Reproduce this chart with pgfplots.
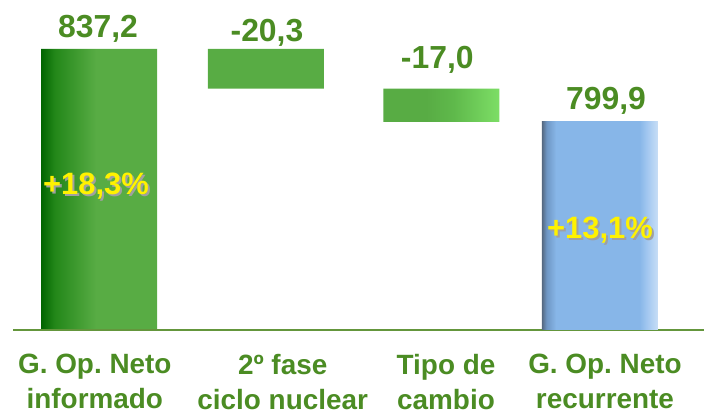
\documentclass[border=0pt]{standalone}
\usepackage{pgfplots}
\pgfplotsset{compat=1.18}
\usepackage{fontspec}
\setmainfont{Liberation Sans}
\frenchspacing
\definecolor{lab}{RGB}{75,140,35}
\definecolor{axl}{RGB}{100,150,60}
\definecolor{g1}{RGB}{0,100,0}
\definecolor{g2}{RGB}{35,135,25}
\definecolor{g3}{RGB}{88,172,68}
\definecolor{g4}{RGB}{95,185,75}
\definecolor{g5}{RGB}{125,222,102}
\definecolor{b1}{RGB}{85,105,130}
\definecolor{b2}{RGB}{110,150,195}
\definecolor{b3}{RGB}{135,182,232}
\definecolor{b4}{RGB}{160,198,240}
\definecolor{b5}{RGB}{200,222,246}
\definecolor{shad}{RGB}{160,160,160}
\pgfdeclarehorizontalshading{greenbar}{100bp}{color(0bp)=(g1); color(25bp)=(g1); color(26.5bp)=(g2); color(31bp)=(g3); color(67bp)=(g3); color(70bp)=(g4); color(75bp)=(g5); color(100bp)=(g5)}
\pgfdeclarehorizontalshading{bluebar}{100bp}{color(0bp)=(b1); color(25bp)=(b1); color(27bp)=(b2); color(31bp)=(b3); color(67bp)=(b3); color(70bp)=(b4); color(75bp)=(b5); color(100bp)=(b5)}
\pgfplotsset{
  common/.style={at={(13bp,82bp)}, anchor=south west, scale only axis,
    width=691bp, height=330bp, xmin=-0.515, xmax=3.623, ymin=693.6, ymax=862.2,
    bar width=116bp},
}
\tikzset{
  numlab/.style={font=\fontsize{32}{38}\selectfont\bfseries, text=lab, anchor=base, inner sep=0pt},
  pctlab/.style={font=\fontsize{31}{37}\selectfont\bfseries, anchor=base, inner sep=0pt},
}
\begin{document}
\begin{tikzpicture}
\begin{axis}[common, ybar stacked, hide axis]
\addplot[draw=none, fill=none] coordinates {(0,0) (1,816.9) (2.05,799.9)};
\addplot[draw=none, shading=greenbar] coordinates {(0,837.2) (1,20.3) (2.05,17.0)};
\end{axis}
\begin{axis}[common, ybar, bar shift=0pt,
  axis x line*=bottom, axis y line=none,
  axis line style={draw=axl, line width=2.2bp, -},
  xtick={-0.025,1.1,2.078,3.03}, major tick length=0pt,
  xticklabels={{G. Op. Neto\\informado},{2º fase\\ciclo nuclear},{Tipo de\\cambio},{G. Op. Neto\\recurrente}},
  xticklabel style={align=center, font=\fontsize{28}{35}\selectfont\bfseries, text=lab, inner sep=0pt, yshift=-24bp},
  clip=false]
\addplot[draw=none, shading=bluebar] coordinates {(3,799.9)};
\node[numlab] at (axis cs:0,837.2) [xshift=-1bp, yshift=11bp] {837,2};
\node[numlab] at (axis cs:1,837.2) [xshift=1bp, yshift=7bp] {-20,3};
\node[numlab] at (axis cs:2.05,816.9) [xshift=-4bp, yshift=19.7bp] {-17,0};
\node[numlab] at (axis cs:3,799.9) [xshift=6bp, yshift=12bp] {799,9};
\node[pctlab, text=shad] at (axis cs:0,762.6) [xshift=-1bp, yshift=-2bp] {+18,3\%};
\node[pctlab, text=yellow] at (axis cs:0,762.6) [xshift=-3bp] {+18,3\%};
\node[pctlab, text=shad] at (axis cs:3,740.1) [xshift=2bp, yshift=-2bp] {+13,1\%};
\node[pctlab, text=yellow] at (axis cs:3,740.1) {+13,1\%};
\end{axis}
\pgfresetboundingbox
\path[use as bounding box] (0,0) rectangle (704bp,412bp);
\end{tikzpicture}
\end{document}
